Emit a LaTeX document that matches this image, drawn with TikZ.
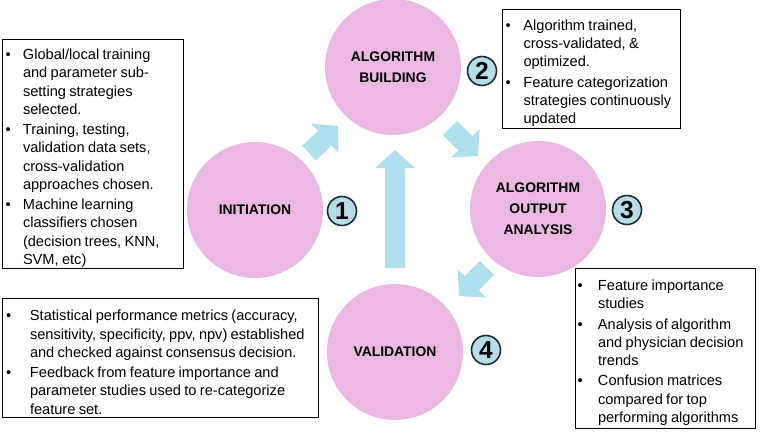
\documentclass[tikz,border=0pt]{standalone}
\usepackage{fontspec}
\setmainfont{Liberation Sans}
\usetikzlibrary{calc}

\definecolor{stagepink}{HTML}{EBB7E3}
\definecolor{flowblue}{HTML}{AEE0EE}
\definecolor{numblue}{HTML}{B7DEE8}
\definecolor{numline}{HTML}{1C2B33}

\tikzset{
  stage/.style={circle, fill=stagepink, minimum size=136pt, inner sep=0pt,
    align=center, font=\fontsize{13.9}{20.8}\selectfont\bfseries},
  stepnum/.style={circle, fill=numblue, draw=numline, line width=1.6pt,
    minimum size=29pt, inner sep=0pt, font=\fontsize{24.5}{24.5}\selectfont\bfseries},
  notebox/.style={draw, line width=0.9pt, inner sep=0pt},
  flowarrow/.style={fill=flowblue}
}

% bullet item: #1 bullet offset, #2 text indent, #3 text
\newcommand{\bitem}[3]{\par\noindent\hangindent=#2\hangafter=1%
  \makebox[#2][l]{\hspace{#1}\textbullet}#3\par}
\newcommand{\notefont}{\fontsize{14.6}{18.3}\selectfont\raggedright\parskip=1.8pt}

% fat block arrow from tail to tip
\newcommand{\fatarrow}[2]{%
  \path ($(#2)!18pt!(#1)$) coordinate (hb);
  \fill[flowarrow] ($(#1)!10pt!90:(#2)$) -- ($(hb)!10pt!90:(#2)$)
    -- ($(hb)!20pt!90:(#2)$) -- (#2) -- ($(hb)!20pt!-90:(#2)$)
    -- ($(hb)!10pt!-90:(#2)$) -- ($(#1)!10pt!-90:(#2)$) -- cycle;}

\begin{document}
\begin{tikzpicture}[x=1pt, y=-1pt]
\useasboundingbox (0,0) rectangle (760,432);

% stages
\node[stage] (build) at (393,67) {ALGORITHM\\BUILDING};
\node[stage] (init) at (255,210) {INITIATION};
\node[stage] (output) at (538,209) {ALGORITHM\\OUTPUT\\ANALYSIS};
\node[stage] (valid) at (395,352) {VALIDATION};

% step numbers
\node[stepnum] (n1) at (342,211) {1};
\node[stepnum] (n2) at (482,71) {2};
\node[stepnum] (n3) at (627,210) {3};
\node[stepnum] (n4) at (486,350) {4};

% flow arrows
\coordinate (a1t) at (309,153); \coordinate (a1h) at (338,126);
\coordinate (a2t) at (450,128); \coordinate (a2h) at (478,156);
\coordinate (a3t) at (487,268); \coordinate (a3h) at (459,296);
\coordinate (a4t) at (395,268); \coordinate (a4h) at (395,150);
\fatarrow{a1t}{a1h}
\fatarrow{a2t}{a2h}
\fatarrow{a3t}{a3h}
\fatarrow{a4t}{a4h}

% notes
\node[notebox, text width=181pt, minimum height=229pt] (initnote) at (92.5,153.5) {\notefont
  \bitem{3.5pt}{21pt}{Global/local training\newline and parameter sub-\newline setting strategies\newline selected.}
  \bitem{3.5pt}{21pt}{Training, testing,\newline validation data sets,\newline cross-validation\newline approaches chosen.}
  \bitem{3.5pt}{21pt}{Machine learning\newline classifiers chosen\newline (decision trees, KNN,\newline SVM, etc)}};
\node[notebox, text width=178pt, minimum height=119pt] (buildnote) at (591,68.5) {\notefont
  \bitem{3.5pt}{21.5pt}{Algorithm trained,\newline cross-validated, \&\newline optimized.}
  \bitem{3.5pt}{21.5pt}{Feature categorization\newline strategies continuously\newline updated}};
\node[notebox, text width=180pt, minimum height=160pt] (outputnote) at (665,348) {\notefont
  \bitem{2.5pt}{23pt}{Feature importance\newline studies}
  \bitem{2.5pt}{23pt}{Analysis of algorithm\newline and physician decision\newline trends}
  \bitem{2.5pt}{23pt}{Confusion matrices\newline compared for top\newline performing algorithms}};
\node[notebox, text width=316pt, minimum height=119pt] (validnote) at (160,357.5) {\notefont
  \bitem{4pt}{28pt}{Statistical performance metrics (accuracy,\newline sensitivity, specificity, ppv, npv) established\newline and checked against consensus decision.}
  \bitem{4pt}{28pt}{Feedback from feature importance and\newline parameter studies used to re-categorize\newline feature set.}};
\end{tikzpicture}
\end{document}
